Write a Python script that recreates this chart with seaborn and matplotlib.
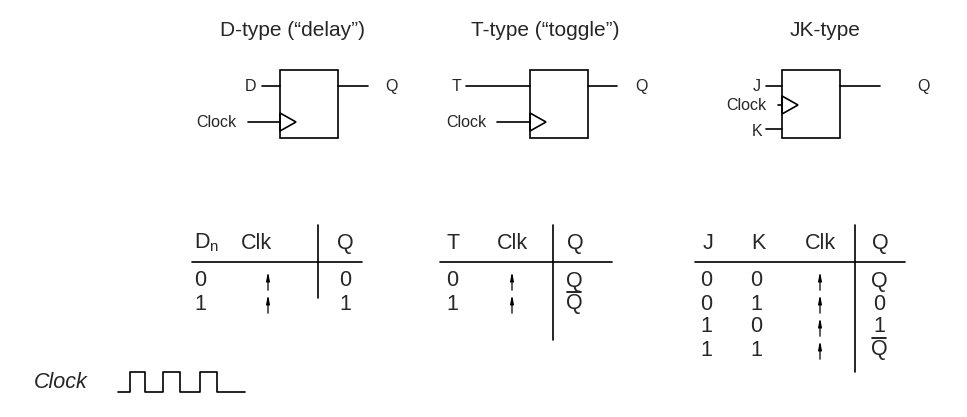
import matplotlib
matplotlib.use("Agg")
import matplotlib.pyplot as plt
import seaborn as sns
from matplotlib.patches import Rectangle, Polygon

sns.set_style("white")
plt.rcParams['font.family'] = ['Liberation Sans', 'DejaVu Sans']

titles = ["D-type (\u201cdelay\u201d)", "T-type (\u201ctoggle\u201d)", "JK-type"]
d_rows = [["0", "up", "0"], ["1", "up", "1"]]
t_rows = [["0", "up", "Q"], ["1", "up", "Qbar"]]
jk_rows = [["0", "0", "up", "Q"], ["0", "1", "up", "0"], ["1", "0", "up", "1"], ["1", "1", "up", "Qbar"]]

fig = plt.figure(figsize=(9.67, 4.17), dpi=100)
ax = fig.add_axes([0, 0, 1, 1])
ax.set_xlim(0, 967); ax.set_ylim(417, 0); ax.axis("off")
lw = 1.2
FS = 15.5

def line(x0, y0, x1, y1):
    ax.plot([x0, x1], [y0, y1], color="black", lw=lw)

def txt(x, y, s, size=FS, ha="center", **kw):
    ax.text(x, y, s, ha=ha, va="center", fontsize=size, **kw)

for x, t in zip([292, 545, 825], titles):
    txt(x, 30, t, size=15)

def box(x0):
    ax.add_patch(Rectangle((x0, 70), 58, 68, fill=False, lw=lw, edgecolor="black"))

def clk_tri(x0, y):
    ax.add_patch(Polygon([(x0, y - 9), (x0 + 16, y), (x0, y + 9)], closed=True,
                         fill=False, lw=lw, edgecolor="black"))

LS = 11.5
# D flip-flop
box(280); line(262, 86, 280, 86); txt(251, 86, "D", LS)
line(248, 122, 280, 122); clk_tri(280, 122); txt(216, 122, "Clock", LS)
line(338, 86, 368, 86); txt(391, 86, "Q", LS)
# T flip-flop
box(530); line(466, 86, 530, 86); txt(456, 86, "T", LS)
line(497, 122, 530, 122); clk_tri(530, 122); txt(466, 122, "Clock", LS)
line(588, 86, 617, 86); txt(641, 86, "Q", LS)
# JK flip-flop
box(782); line(766, 86, 782, 86); txt(757, 86, "J", LS)
line(778, 105, 782, 105); clk_tri(782, 105); txt(746, 105, "Clock", LS)
line(766, 129, 782, 129); txt(757, 131, "K", LS)
line(840, 86, 880, 86); txt(923, 86, "Q", LS)

def up(x, y):
    ax.annotate("", xy=(x, y - 12), xytext=(x, y + 12),
                arrowprops=dict(arrowstyle="-|>,head_length=0.5,head_width=0.1", lw=0.9, color="black"))

def cell(x, y, s):
    if s == "up":
        up(x, y + 2)
    elif s == "Qbar":
        txt(x, y + 2, "Q")
        line(x - 7, y - 10, x + 7, y - 10)
    else:
        txt(x, y + 2, s)

# D table
txt(207, 243, "D$_\\mathregular{n}$"); txt(256, 243, "Clk"); txt(345, 243, "Q")
line(318, 225, 318, 298); line(192, 262, 362, 262)
for i, r in enumerate(d_rows):
    y = 279 + 23 * i
    for x, s in zip([200, 268, 345], r):
        cell(x, y, s)
# T table
txt(453, 243, "T"); txt(512, 243, "Clk"); txt(575, 243, "Q")
line(553, 225, 553, 340); line(440, 262, 612, 262)
for i, r in enumerate(t_rows):
    y = 279 + 23 * i
    for x, s in zip([452, 512, 574], r):
        cell(x, y, s)
# JK table
txt(708, 243, "J"); txt(758, 243, "K"); txt(820, 243, "Clk"); txt(880, 243, "Q")
line(855, 225, 855, 372); line(695, 262, 905, 262)
for i, r in enumerate(jk_rows):
    y = 279 + 23 * i
    for x, s in zip([706, 756, 820, 879], r):
        cell(x, y, s)

# Clock waveform
txt(34, 382, "Clock", ha="left", style="italic")
xs = [118, 130, 130, 145, 145, 163, 163, 180, 180, 200, 200, 217, 217, 245]
ys = [392, 392, 372, 372, 392, 392, 372, 372, 392, 392, 372, 372, 392, 392]
ax.plot(xs, ys, color="black", lw=lw)

fig.savefig("out.png", dpi=100)
